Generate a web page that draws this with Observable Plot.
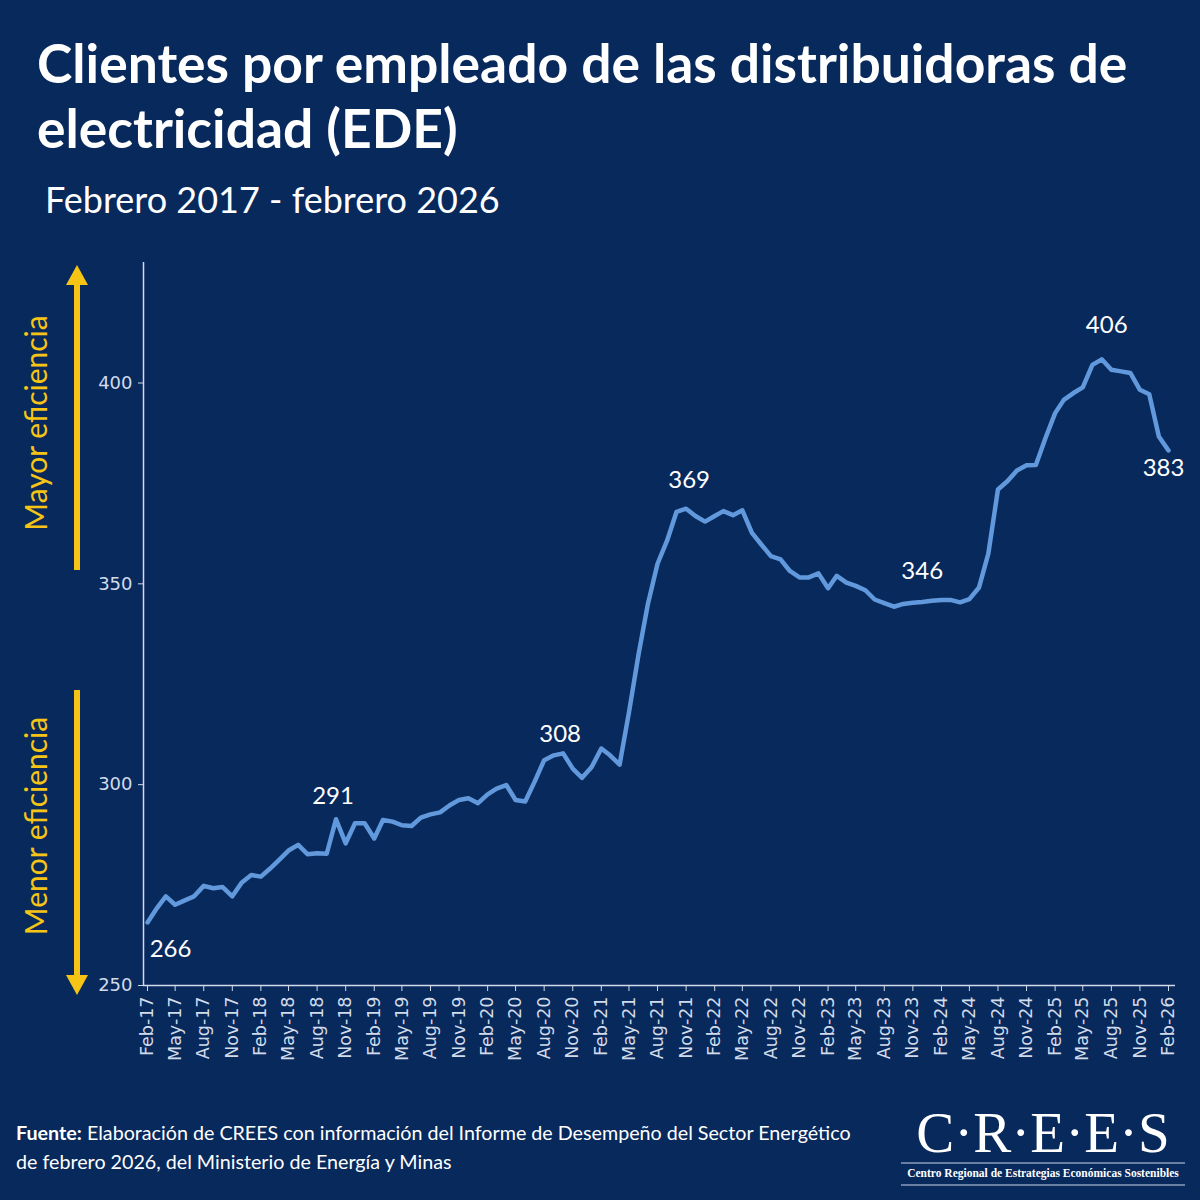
<!DOCTYPE html>
<html>
<head>
<meta charset="utf-8">
<script src="https://cdn.jsdelivr.net/npm/d3@7"></script>
<script src="https://cdn.jsdelivr.net/npm/@observablehq/plot@0.6"></script>
<style>
  html, body { margin: 0; padding: 0; background: #08295c; }
  #root { position: relative; width: 1200px; height: 1200px; background: #08295c; overflow: hidden; font-family: Lato, "Noto Sans", sans-serif; }
  .title { position: absolute; left: 37px; top: 30px; font-weight: 700; font-size: 53.4px; line-height: 65px; color: #ffffff; white-space: nowrap; }
  .subtitle { position: absolute; left: 45px; top: 177px; font-size: 36px; line-height: 44px; color: #ffffff; white-space: nowrap; }
  #chart { position: absolute; left: 0; top: 240px; }
  .source { position: absolute; left: 16px; top: 1118px; font-size: 19.7px; line-height: 29px; color: #ffffff; white-space: nowrap; }
  .overlay { position: absolute; left: 0; top: 0; }
</style>
</head>
<body>
<div id="root">
  <div class="title">Clientes por empleado de las distribuidoras de<br>electricidad (EDE)</div>
  <div class="subtitle">Febrero 2017 - febrero 2026</div>
  <div id="chart"></div>
  <svg class="overlay" width="1200" height="1200" xmlns="http://www.w3.org/2000/svg">
    <!-- efficiency arrows -->
    <line x1="77" y1="570" x2="77" y2="280" stroke="#f5c415" stroke-width="6"/>
    <polygon points="77,265 66,285 88,285" fill="#f5c415"/>
    <line x1="77" y1="690" x2="77" y2="980" stroke="#f5c415" stroke-width="6"/>
    <polygon points="77,995 66,975 88,975" fill="#f5c415"/>
    <text transform="translate(47,423) rotate(-90)" text-anchor="middle" font-family="Lato" font-size="30" fill="#f5c415">Mayor eficiencia</text>
    <text transform="translate(47,826) rotate(-90)" text-anchor="middle" font-family="Lato" font-size="30" fill="#f5c415">Menor eficiencia</text>
    <!-- logo -->
    <text x="1043" y="1152" text-anchor="middle" font-family="'Liberation Serif', 'DejaVu Serif', serif" font-size="57" fill="#ffffff">C·R·E·E·S</text>
    <line x1="901" y1="1163" x2="1185" y2="1163" stroke="#c9d4e6" stroke-width="1.2"/>
    <text x="1043" y="1177" text-anchor="middle" font-family="'Liberation Serif', 'DejaVu Serif', serif" font-weight="700" font-size="11.5" fill="#ffffff">Centro Regional de Estrategias Económicas Sostenibles</text>
    <line x1="901" y1="1185" x2="1185" y2="1185" stroke="#c9d4e6" stroke-width="1.2"/>
  </svg>
  <div class="source"><b>Fuente:</b> Elaboración de CREES con información del Informe de Desempeño del Sector Energético<br>de febrero 2026, del Ministerio de Energía y Minas</div>
</div>
<script>
// Monthly series: February 2017 ... February 2026 (109 months)
const startMonth = new Date(Date.UTC(2017, 1, 1));
const endMonth = new Date(Date.UTC(2026, 2, 1));
const months = d3.utcMonth.range(startMonth, endMonth);

const clientesPorEmpleado = [
  // 2017 Feb-Dec
  265.7, 269.0, 272.2, 270.1, 271.2, 272.2, 274.8, 274.2, 274.5, 272.2, 275.6,
  // 2018 Jan-Dec
  277.5, 277.1, 279.0, 281.3, 283.6, 285.0, 282.7, 282.9, 282.8, 291.4, 285.4, 290.4,
  // 2019
  290.4, 286.6, 291.2, 290.8, 289.9, 289.7, 291.8, 292.6, 293.1, 294.8, 296.2, 296.6,
  // 2020
  295.4, 297.6, 299.0, 299.9, 296.2, 295.8, 300.7, 306.1, 307.3, 307.8, 304.0, 301.7,
  // 2021
  304.4, 309.0, 307.3, 305.0, 318.0, 332.5, 345.0, 355.0, 360.8, 367.9, 368.7, 366.9,
  // 2022
  365.5, 366.9, 368.1, 367.1, 368.3, 362.7, 359.8, 356.9, 356.1, 353.2, 351.6, 351.6,
  // 2023
  352.6, 348.9, 352.0, 350.3, 349.5, 348.4, 346.1, 345.2, 344.3, 345.0, 345.3, 345.5,
  // 2024
  345.8, 346.0, 346.0, 345.4, 346.2, 349.1, 357.5, 373.5, 375.6, 378.2, 379.5, 379.6,
  // 2025
  386.3, 392.5, 395.8, 397.5, 398.9, 404.5, 405.9, 403.3, 402.9, 402.5, 398.3, 397.2,
  // 2026 Jan-Feb
  386.7, 383.2
];

const yTicks = [250, 300, 350, 400];
const xTickEvery = 3; // Feb, May, Aug, Nov

// Annotated points (index into months) with label offsets
const labelIndex = [0, 20, 44, 57, 82, 101, 108];
const labelDx    = [23, -3, -3, 3, 0, 5, -5];
const labelDy    = [27, -23, -19, -28, -31, -34, 18];

const data = months.map((d, i) => ({ date: d, value: clientesPorEmpleado[i] }));

const axisColor = "#d2dbea";
const lineColor = "#6199dc";

const labelMarks = labelIndex.map((idx, k) =>
  Plot.text([{ date: months[idx], value: clientesPorEmpleado[idx] }], {
    x: "date", y: "value",
    text: d => String(Math.round(d.value)),
    dx: labelDx[k], dy: labelDy[k],
    lineAnchor: "middle", textAnchor: "middle",
    fill: "#ffffff", fontSize: 24, fontFamily: "Lato"
  })
);

const chart = Plot.plot({
  width: 1200,
  height: 835,
  marginTop: 22,
  marginBottom: 90,
  marginLeft: 143,
  marginRight: 25,
  insetLeft: 4,
  insetRight: 7,
  style: { background: "transparent", color: axisColor, fontFamily: "'DejaVu Sans', Verdana, sans-serif", fontSize: "17px", overflow: "visible" },
  x: { type: "utc", domain: [months[0], months[months.length - 1]] },
  y: { domain: [250, 430] },
  marks: [
    Plot.ruleY([250], { stroke: axisColor, strokeWidth: 1.5 }),
    Plot.ruleX([months[0]], { dx: -4, stroke: axisColor, strokeWidth: 1.5 }),
    Plot.axisY({ ticks: yTicks, tickSize: 5, tickPadding: 6, label: null, stroke: axisColor, fill: axisColor, fontSize: 18 }),
    Plot.axisX({
      ticks: months.filter((d, i) => i % xTickEvery === 0),
      tickFormat: d3.utcFormat("%b-%y"),
      tickRotate: -90,
      tickSize: 6,
      tickPadding: 5,
      label: null,
      stroke: axisColor,
      fill: axisColor,
      fontSize: 17.5
    }),
    Plot.line(data, { x: "date", y: "value", stroke: lineColor, strokeWidth: 4.5, strokeLinejoin: "round", strokeLinecap: "round" }),
    ...labelMarks
  ]
});
document.getElementById("chart").appendChild(chart);
</script>
</body>
</html>
